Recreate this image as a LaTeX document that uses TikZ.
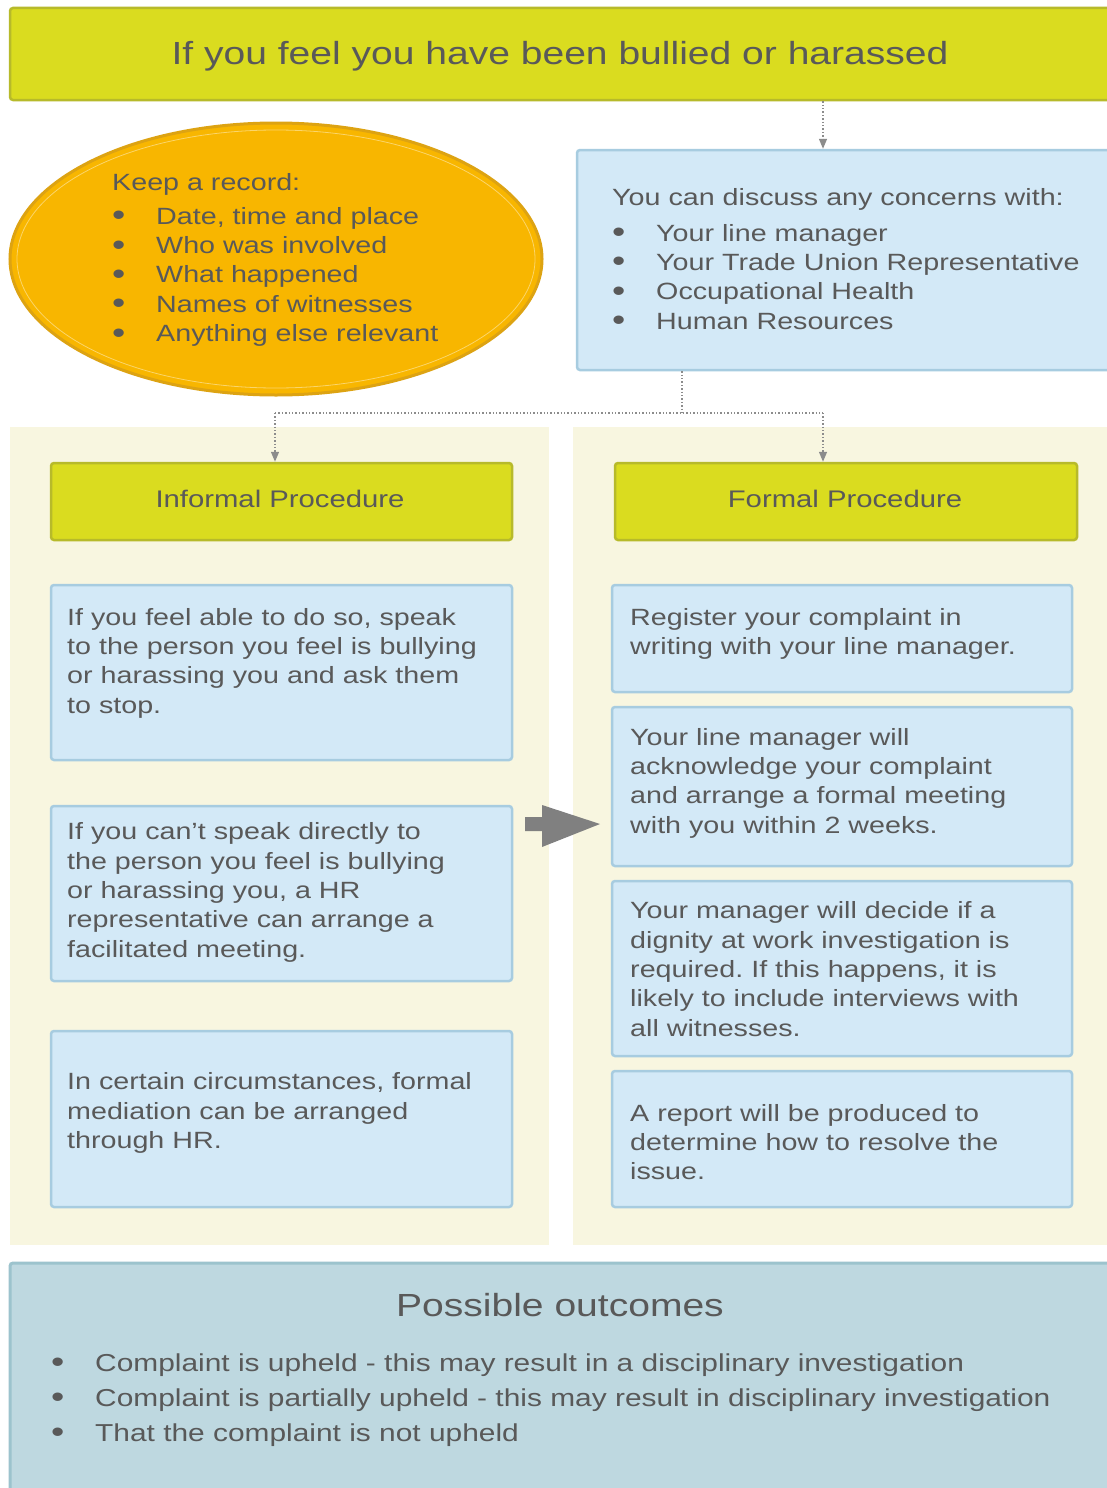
\documentclass[tikz,border=0pt]{standalone}
\usepackage{fontspec}
\setmainfont{Liberation Sans}[FakeStretch=1.22]
\usetikzlibrary{arrows.meta,shapes.geometric}
\frenchspacing
\definecolor{ttlyellow}{HTML}{DADC1F}
\definecolor{ttledge}{HTML}{B7BA2A}
\definecolor{recorange}{HTML}{F8B600}
\definecolor{recedge}{HTML}{DDA312}
\definecolor{rechi}{HTML}{FBD56A}
\definecolor{boxblue}{HTML}{D3E9F7}
\definecolor{boxedge}{HTML}{A7CCE0}
\definecolor{panelcream}{HTML}{F8F6E0}
\definecolor{outblue}{HTML}{BED8E0}
\definecolor{outedge}{HTML}{9CC3CD}
\definecolor{txtgray}{HTML}{595959}
\definecolor{arrgray}{HTML}{808080}
\definecolor{conngray}{HTML}{8C8C8C}
\begin{document}
\begin{tikzpicture}[x=1pt,y=-1pt,
  bodytext/.style={anchor=base west, inner sep=0pt, align=left, text=txtgray,
    font=\fontsize{23.5}{29.3}\selectfont\frenchspacing},
  panel/.style={fill=panelcream, draw=none, inner sep=0pt},
  bluebox/.style={fill=boxblue, draw=boxedge, line width=2.5pt, rounded corners=3pt, inner sep=0pt},
  yellowbox/.style={fill=ttlyellow, draw=ttledge, line width=2.5pt, rounded corners=3pt, inner sep=0pt},
  conn/.style={conngray, line width=1.4pt, dotted},
  connarrow/.style={conn, -{Triangle[length=10pt,width=8pt]}},
]
\useasboundingbox (0,0) rectangle (1107,1488);
\clip (0,0) rectangle (1107,1488);
\fill[white] (0,0) rectangle (1107,1488);
\newcommand{\bl}{\makebox[44pt][l]{\raisebox{-1.5pt}{\fontsize{31}{29}\selectfont •}}}

% title
\node[yellowbox, minimum width=1105pt, minimum height=92pt] (title) at (562.5,54) {};
\node[anchor=base, inner sep=0pt, text=txtgray, font=\fontsize{32}{38}\selectfont] (titletxt) at (560,64) {If you feel you have been bullied or harassed};

% keep a record ellipse
\node[ellipse, fill=recorange, draw=recedge, line width=3pt, minimum width=532pt, minimum height=272pt, inner sep=0pt] (rec) at (276,259) {};
\node[ellipse, draw=rechi, line width=0.8pt, minimum width=518pt, minimum height=258pt, inner sep=0pt] (rechl) at (276,259) {};
\node[bodytext] (rectxt) at (112,341.5) {Keep a record:\\[5pt]
\bl Date, time and place\\
\bl Who was involved\\
\bl What happened\\
\bl Names of witnesses\\
\bl Anything else relevant};

% discuss box
\node[bluebox, minimum width=538pt, minimum height=220pt] (disc) at (846,260) {};
\node[bodytext] (disctxt) at (612,329) {You can discuss any concerns with:\\[6pt]
\bl Your line manager\\
\bl Your Trade Union Representative\\
\bl Occupational Health\\
\bl Human Resources};

% panels
\node[panel, minimum width=539pt, minimum height=818pt] (lpanel) at (279.5,836) {};
\node[panel, minimum width=542pt, minimum height=818pt] (rpanel) at (844,836) {};

% procedure headers
\node[yellowbox, minimum width=461pt, minimum height=77pt] (inf) at (281.5,501.5) {};
\node[anchor=base, inner sep=0pt, text=txtgray, font=\fontsize{24}{29}\selectfont] (inftxt) at (280,507) {Informal Procedure};
\node[yellowbox, minimum width=462pt, minimum height=77pt] (form) at (846,501.5) {};
\node[anchor=base, inner sep=0pt, text=txtgray, font=\fontsize{24}{29}\selectfont] (formtxt) at (845,507) {Formal Procedure};

% connectors
\coordinate (j) at (682,413);
\coordinate (ci) at (275,413);
\coordinate (cf) at (823,413);
\draw[connarrow] (title.south -| cf) -- (disc.north -| cf);
\draw[conn] (disc.south -| j) -- (j);
\draw[conn] (ci) -- (cf);
\draw[connarrow] (ci) -- (inf.north -| ci);
\draw[connarrow] (cf) -- (form.north -| cf);

% left boxes
\node[bluebox, minimum width=461pt, minimum height=175pt] (l1) at (281.5,672.5) {};
\node[bodytext] (l1txt) at (67,713) {If you feel able to do so, speak\\to the person you feel is bullying\\or harassing you and ask them\\to stop.};
\node[bluebox, minimum width=461pt, minimum height=175pt] (l2) at (281.5,893.5) {};
\node[bodytext] (l2txt) at (67,957) {If you can’t speak directly to\\the person you feel is bullying\\or harassing you, a HR\\representative can arrange a\\facilitated meeting.};
\node[bluebox, minimum width=461pt, minimum height=176pt] (l3) at (281.5,1119) {};
\node[bodytext] (l3txt) at (67,1148.5) {In certain circumstances, formal\\mediation can be arranged\\through HR.};

% right boxes
\node[bluebox, minimum width=460pt, minimum height=107pt] (r1) at (842,638.5) {};
\node[bodytext] (r1txt) at (630,654.3) {Register your complaint in\\writing with your line manager.};
\node[bluebox, minimum width=460pt, minimum height=159pt] (r2) at (842,786.5) {};
\node[bodytext] (r2txt) at (630,833) {Your line manager will\\acknowledge your complaint\\and arrange a formal meeting\\with you within 2 weeks.};
\node[bluebox, minimum width=460pt, minimum height=175pt] (r3) at (842,968.5) {};
\node[bodytext] (r3txt) at (630,1036) {Your manager will decide if a\\dignity at work investigation is\\required. If this happens, it is\\likely to include interviews with\\all witnesses.};
\node[bluebox, minimum width=460pt, minimum height=136pt] (r4) at (842,1139) {};
\node[bodytext] (r4txt) at (630,1179.6) {A report will be produced to\\determine how to resolve the\\issue.};

% big arrow
\fill[arrgray] (525,817) -- (542,817) -- (542,805) -- (600,824) -- (542,847) -- (542,831) -- (525,831) -- cycle;

% outcomes
\node[fill=outblue, draw=outedge, line width=3pt, rounded corners=3pt, inner sep=0pt, minimum width=1105pt, minimum height=232pt] (out) at (562.5,1379) {};
\node[anchor=base, inner sep=0pt, text=txtgray, font=\fontsize{32}{38}\selectfont] (outtitle) at (560,1316) {Possible outcomes};
\node[bodytext, font=\fontsize{24.5}{35}\selectfont\frenchspacing] (outtxt) at (51,1441) {\bl Complaint is upheld - this may result in a disciplinary investigation\\
\bl Complaint is partially upheld - this may result in disciplinary investigation\\
\bl That the complaint is not upheld};
\end{tikzpicture}
\end{document}
